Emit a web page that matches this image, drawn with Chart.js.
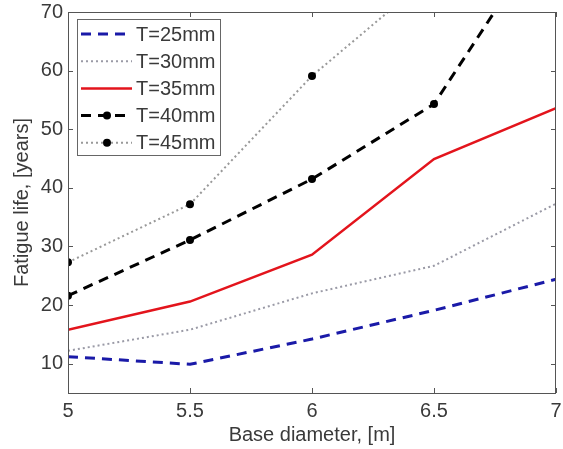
<!DOCTYPE html>
<html>
<head>
<meta charset="utf-8">
<script src="https://cdn.jsdelivr.net/npm/chart.js@4/dist/chart.umd.min.js"></script>
<style>
  body { margin: 0; background: #fff; }
</style>
</head>
<body>
<canvas id="chart" width="563" height="449"></canvas>
<script>
// data
const diameters = [5, 5.5, 6, 6.5, 7];
const t25 = [11.2, 9.9, 14.2, 19.1, 24.4];
const t30 = [12.2, 15.8, 22.0, 26.7, 37.3];
const t35 = [15.8, 20.6, 28.6, 44.9, 53.6];
const t40 = [21.6, 31.1, 41.5, 54.3, 86];
const t45 = [27.3, 37.2, 59.1, 76.6, 95];
const labels = ['T=25mm', 'T=30mm', 'T=35mm', 'T=40mm', 'T=45mm'];
const xTicks = [5, 5.5, 6, 6.5, 7];
const yTicks = [10, 20, 30, 40, 50, 60, 70];

const font = "'Liberation Sans', Arial, sans-serif";
const textColor = '#3a3a3a';

function pts(ys) {
    return diameters.map((x, i) => ({ x: x, y: ys[i] }));
}

// matlab style frame with inward ticks, plus the legend box
const framePlugin = {
    id: 'frame',
    afterDatasetsDraw(chart) {
        const ctx = chart.ctx;
        const a = chart.chartArea;
        const xs = chart.scales.x, ys = chart.scales.y;
        ctx.save();
        ctx.strokeStyle = '#555';
        ctx.lineWidth = 1;
        ctx.strokeRect(a.left + 0.5, a.top + 0.5, a.right - a.left - 1, a.bottom - a.top);
        ctx.beginPath();
        xTicks.forEach(v => {
            const px = Math.round(xs.getPixelForValue(v)) + 0.5;
            ctx.moveTo(px, a.bottom); ctx.lineTo(px, a.bottom - 5);
            ctx.moveTo(px, a.top); ctx.lineTo(px, a.top + 5);
        });
        yTicks.forEach(v => {
            const py = Math.round(ys.getPixelForValue(v)) + 0.5;
            ctx.moveTo(a.left, py); ctx.lineTo(a.left + 5, py);
            ctx.moveTo(a.right, py); ctx.lineTo(a.right - 5, py);
        });
        ctx.stroke();

        // legend
        const lx = a.left + 9, ly = a.top + 7, lw = 143, lh = 136;
        ctx.fillStyle = '#fff';
        ctx.fillRect(lx, ly, lw, lh);
        ctx.strokeStyle = '#666';
        ctx.strokeRect(lx + 0.5, ly + 0.5, lw, lh);
        chart.data.datasets.forEach((ds, i) => {
            const cy = ly + 15 + i * 27.2;
            ctx.beginPath();
            ctx.strokeStyle = ds.borderColor;
            ctx.lineWidth = ds.borderWidth;
            ctx.setLineDash(ds.borderDash || []);
            ctx.moveTo(lx + 4, cy);
            ctx.lineTo(lx + 55, cy);
            ctx.stroke();
            ctx.setLineDash([]);
            if (ds.pointRadius > 0) {
                ctx.beginPath();
                ctx.fillStyle = '#000';
                ctx.arc(lx + 30, cy, 4, 0, Math.PI * 2);
                ctx.fill();
            }
            ctx.fillStyle = textColor;
            ctx.font = '20px ' + font;
            ctx.textBaseline = 'middle';
            ctx.fillText(ds.label, lx + 59, cy + 1);
        });
        ctx.restore();
    }
};

new Chart(document.getElementById('chart'), {
    type: 'line',
    data: {
        datasets: [
            { label: labels[0], data: pts(t25), borderColor: '#1a1aa8', borderWidth: 3, borderDash: [10, 7], pointRadius: 0 },
            { label: labels[1], data: pts(t30), borderColor: '#9a9aa6', borderWidth: 2, borderDash: [2, 3], pointRadius: 0 },
            { label: labels[2], data: pts(t35), borderColor: '#e3141c', borderWidth: 2.5, pointRadius: 0 },
            { label: labels[3], data: pts(t40), borderColor: '#000', borderWidth: 3, borderDash: [10, 7], pointRadius: 4, pointBackgroundColor: '#000', pointBorderWidth: 0 },
            { label: labels[4], data: pts(t45), borderColor: '#999', borderWidth: 2, borderDash: [2, 3], pointRadius: 4, pointBackgroundColor: '#000', pointBorderWidth: 0 }
        ]
    },
    options: {
        responsive: false,
        animation: false,
        maintainAspectRatio: false,
        layout: { padding: { top: 0, right: 7, left: 0, bottom: 0 } },
        elements: { line: { tension: 0 } },
        plugins: { legend: { display: false }, tooltip: { enabled: false } },
        scales: {
            x: {
                type: 'linear', min: 5, max: 7,
                afterBuildTicks: s => { s.ticks = xTicks.map(v => ({ value: v })); },
                afterFit: s => { s.height = 56; s.paddingRight = 0; s.paddingLeft = 0; },
                grid: { display: false, drawTicks: false },
                border: { display: false },
                ticks: { color: textColor, font: { family: font, size: 20 }, padding: 6, maxRotation: 0, callback: v => String(v) },
                title: { display: true, text: 'Base diameter, [m]', color: textColor, font: { family: font, size: 20 }, padding: { top: 0, bottom: 2 } }
            },
            y: {
                min: 5, max: 70,
                afterBuildTicks: s => { s.ticks = yTicks.map(v => ({ value: v })); },
                afterFit: s => { s.width = 68; s.paddingTop = 12; },
                grid: { display: false, drawTicks: false },
                border: { display: false },
                ticks: { color: textColor, font: { family: font, size: 20 }, padding: 5 },
                title: { display: true, text: 'Fatigue life, [years]', color: textColor, font: { family: font, size: 20 }, padding: { top: 10, bottom: 0 } }
            }
        }
    },
    plugins: [framePlugin]
});
</script>
</body>
</html>
